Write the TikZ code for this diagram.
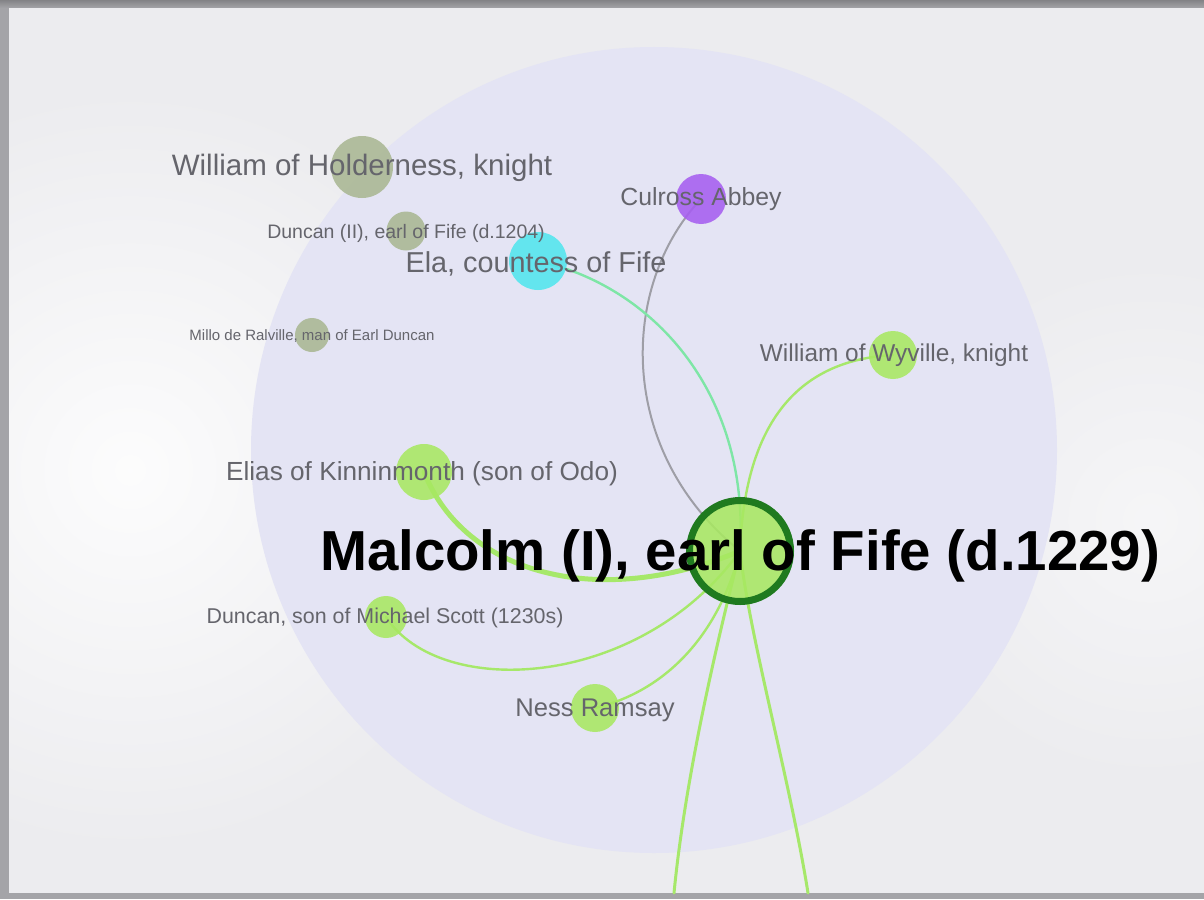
\documentclass[tikz,border=0pt]{standalone}
\usepackage{fontspec}
\setmainfont{Liberation Sans}
\pgfdeclarelayer{bg}
\pgfdeclarelayer{edges}
\pgfdeclarelayer{fg}
\pgfsetlayers{bg,edges,main,fg}
\definecolor{frameshade}{HTML}{A4A4A8}
\definecolor{panel}{HTML}{ECECEF}
\definecolor{hub}{HTML}{E4E4F4}
\definecolor{sage}{HTML}{A9B793}
\definecolor{aqua}{HTML}{52E6EE}
\definecolor{violet}{HTML}{A65EF0}
\definecolor{lime}{HTML}{A8E862}
\definecolor{darkring}{HTML}{1F7A1F}
\definecolor{limeedge}{HTML}{A6E86A}
\definecolor{mintedge}{HTML}{7EE6A6}
\definecolor{grayedge}{HTML}{9E9EA6}
\definecolor{labelgray}{HTML}{65656C}
\tikzset{
  dot/.style={circle, inner sep=0pt, outer sep=0pt, draw=none, fill opacity=0.88},
  lbl/.style={anchor=base, inner sep=0pt, text=labelgray},
  link/.style={line width=2.4pt, limeedge, line cap=round},
}
\begin{document}
\begin{tikzpicture}[x=1pt, y=-1pt]
\useasboundingbox (0,0) rectangle (1204,899);

% frame and backdrop
\begin{pgfonlayer}{bg}
  \fill[frameshade] (0,0) rectangle (1204,899);
  \shade[top color=frameshade!80!black, bottom color=frameshade] (0,0) rectangle (1204,8);
  \fill[panel] (9,8) rectangle (1204,893);
  \begin{scope}
    \clip (9,8) rectangle (1204,893);
    \shade[inner color=white!85!panel, outer color=panel] (130,470) circle (380);
    \shade[inner color=white!50!panel, outer color=panel] (1150,520) circle (260);
  \end{scope}
  \fill[hub] (654,450) circle (403);
\end{pgfonlayer}

% people and places
\node[dot, fill=sage, minimum size=62] (holder) at (362,167) {};
\node[dot, fill=sage, minimum size=39] (duncan) at (406,231) {};
\node[dot, fill=aqua, minimum size=58] (ela) at (538,261) {};
\node[dot, fill=sage, minimum size=34] (millo) at (312,335) {};
\node[dot, fill=violet, minimum size=50] (culross) at (701,199) {};
\node[dot, fill=lime, minimum size=48] (wyville) at (893,355) {};
\node[dot, fill=lime, minimum size=56] (elias) at (424,472) {};
\node[dot, fill=lime, minimum size=42] (dscott) at (386,617) {};
\node[dot, fill=lime, minimum size=48] (ness) at (595,708) {};
\node[dot, fill=lime, draw=darkring, draw opacity=1, line width=7pt, minimum size=101] (malcolm) at (740,551) {};
\coordinate (outA) at (674,893);
\coordinate (outB) at (808,893);

% connections
\begin{pgfonlayer}{edges}
  \draw[line width=2pt, grayedge] (culross.center) .. controls (620,285) and (615,450) .. (malcolm.center);
  \draw[link, mintedge] (ela.center) .. controls (650,285) and (750,390) .. (malcolm.center);
  \draw[link] (wyville.center) .. controls (800,360) and (745,420) .. (malcolm.center);
  \draw[link, line width=5pt] (elias.center) .. controls (465,575) and (600,610) .. (malcolm.center);
  \draw[link] (dscott.center) .. controls (440,700) and (640,690) .. (malcolm.center);
  \draw[link] (ness.center) .. controls (670,690) and (720,630) .. (malcolm.center);
  \draw[link, line width=3pt] (malcolm.center) .. controls (715,650) and (685,780) .. (outA);
  \draw[link, line width=3pt] (malcolm.center) .. controls (750,640) and (790,780) .. (outB);
\end{pgfonlayer}

% labels
\begin{pgfonlayer}{fg}
  \node[lbl, font=\fontsize{29.5}{30}\selectfont] (holderT) at (362,175) {William of Holderness, knight};
  \node[lbl, font=\fontsize{19.5}{20}\selectfont] (duncanT) at (406,238) {Duncan (II), earl of Fife (d.1204)};
  \node[lbl, font=\fontsize{28.8}{29}\selectfont] (elaT) at (536,272) {Ela, countess of Fife};
  \node[lbl, font=\fontsize{15}{15}\selectfont] (milloT) at (312,340) {Millo de Ralville, man of Earl Duncan};
  \node[lbl, font=\fontsize{24.8}{25}\selectfont] (culrossT) at (701,205) {Culross Abbey};
  \node[lbl, font=\fontsize{24.4}{25}\selectfont] (wyvilleT) at (894,361) {William of Wyville, knight};
  \node[lbl, font=\fontsize{26.2}{27}\selectfont] (eliasT) at (422,480) {Elias of Kinninmonth (son of Odo)};
  \node[lbl, font=\fontsize{21.4}{22}\selectfont] (dscottT) at (385,623) {Duncan, son of Michael Scott (1230s)};
  \node[lbl, font=\fontsize{25.6}{26}\selectfont] (nessT) at (595,716) {Ness Ramsay};
  \node[anchor=base, inner sep=0pt, text=black, font=\bfseries\fontsize{56.4}{57}\selectfont] (malcolmT) at (740,570) {Malcolm (I), earl of Fife (d.1229)};
\end{pgfonlayer}
\end{tikzpicture}
\end{document}
